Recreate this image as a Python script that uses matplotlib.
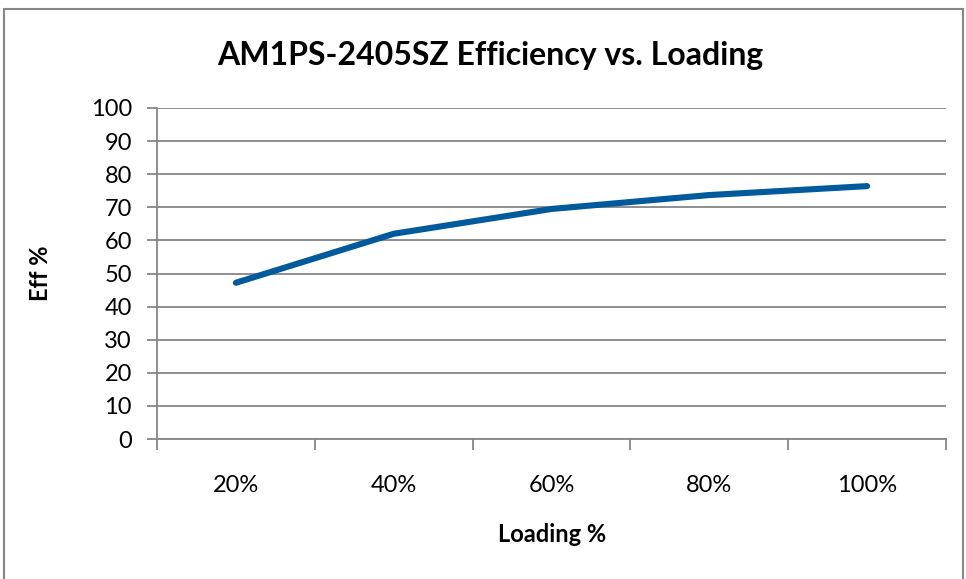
import matplotlib
matplotlib.use("Agg")
import matplotlib.pyplot as plt
from matplotlib.patches import Rectangle

categories = ["20%", "40%", "60%", "80%", "100%"]
efficiency = [47.2, 62.0, 69.5, 73.7, 76.4]
yticks = [0, 10, 20, 30, 40, 50, 60, 70, 80, 90, 100]

plt.rcParams['font.family'] = ['Lato', 'DejaVu Sans']

fig = plt.figure(figsize=(9.66, 5.79), dpi=100)
W, H = 966, 579
ax = fig.add_axes([157 / W, 1 - 439 / H, (946 - 157) / W, (439 - 108) / H])

grid_c = "#868686"
x = list(range(len(categories)))
ax.plot(x, efficiency, color="#005A9C", lw=4.4, solid_capstyle="round", solid_joinstyle="round", zorder=3)

ax.set_xlim(-0.5, len(categories) - 0.5)
ax.set_ylim(0, 100)
ax.set_yticks(yticks)
ax.set_yticklabels([str(v) for v in yticks], fontsize=17)
ax.set_xticks([i - 0.5 for i in range(len(categories) + 1)])
ax.set_xticklabels([])
ax.set_xticks(x, minor=True)
ax.set_xticklabels(categories, minor=True, fontsize=17)
ax.tick_params(axis="x", which="minor", length=0, pad=26)
ax.tick_params(axis="x", which="major", length=8, width=1.3, color=grid_c, direction="out")
ax.tick_params(axis="y", length=7, width=1.3, color=grid_c, pad=11)

ax.yaxis.grid(True, color=grid_c, lw=1.3)
ax.set_axisbelow(True)
for s in ["top", "right"]:
    ax.spines[s].set_visible(False)
for s in ["left", "bottom"]:
    ax.spines[s].set_color(grid_c)
    ax.spines[s].set_linewidth(1.3)

fig.text(490 / W, 1 - 55 / H, "AM1PS-2405SZ Efficiency vs. Loading", ha="center", va="center",
         fontsize=23, fontweight="bold")
fig.text(40 / W, 1 - 273 / H, "Eff %", ha="center", va="center", rotation=90, fontsize=17, fontweight="bold")
fig.text(552 / W, 1 - 534 / H, "Loading %", ha="center", va="center", fontsize=17, fontweight="bold")

fig.patches.append(Rectangle((4 / W, -0.1), (963 - 4) / W, 1 - 9 / H + 0.1, transform=fig.transFigure,
                             fill=False, edgecolor=grid_c, lw=1.5))

fig.savefig("out.png", dpi=100)
